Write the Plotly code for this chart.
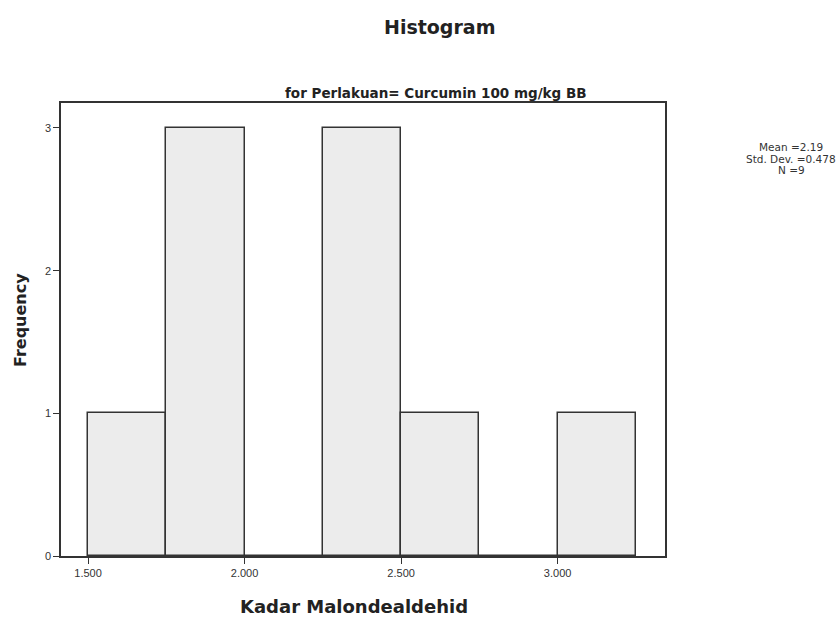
import plotly.graph_objects as go

# Histogram bins (lower edges) and their frequencies
bin_starts = [1.50, 1.75, 2.00, 2.25, 2.50, 2.75, 3.00]
bin_width = 0.25
frequencies = [1, 3, 0, 3, 1, 0, 1]

x_tick_vals = [1.5, 2.0, 2.5, 3.0]
x_tick_text = ["1.500", "2.000", "2.500", "3.000"]
y_tick_vals = [0, 1, 2, 3]

stats_lines = ["Mean =2.19", "Std. Dev. =0.478", "N =9"]

centers = [s + bin_width / 2 for s in bin_starts]

fig = go.Figure()
fig.add_trace(go.Bar(
    x=centers,
    y=frequencies,
    width=bin_width,
    marker=dict(color="#ececec", line=dict(color="#333333", width=1.5)),
    showlegend=False,
))

W, H = 839, 620
L, R, T, B = 61, 174, 103, 64

fig.update_layout(
    width=W, height=H,
    margin=dict(l=L, r=R, t=T, b=B),
    paper_bgcolor="white",
    plot_bgcolor="white",
    font=dict(family="Liberation Sans, Arial, sans-serif", color="#222"),
    bargap=0,
    xaxis=dict(
        range=[1.4135, 3.343],
        tickvals=x_tick_vals, ticktext=x_tick_text,
        ticks="outside", ticklen=6, tickcolor="#333", tickwidth=1,
        tickfont=dict(size=11, color="#333"),
        showgrid=False, zeroline=False,
        showline=True, linecolor="#333", linewidth=1.5, mirror=True,
    ),
    yaxis=dict(
        range=[0, 3.175],
        tickvals=y_tick_vals,
        ticks="outside", ticklen=6, tickcolor="#333", tickwidth=1,
        tickfont=dict(size=11, color="#333"),
        showgrid=False, zeroline=False,
        showline=True, linecolor="#333", linewidth=1.5, mirror=True,
    ),
)

HEAVY = "DejaVu Sans, Liberation Sans, sans-serif"
annotations = [
    dict(text="<b>Histogram</b>", x=439, y=H - 27, font=dict(family=HEAVY, size=19, color="#222")),
    dict(text="<b>for Perlakuan= Curcumin 100 mg/kg BB</b>", x=436, y=H - 93,
         font=dict(family=HEAVY, size=13.5, color="#222")),
    dict(text="<b>Kadar Malondealdehid</b>", x=354, y=H - 606,
         font=dict(family=HEAVY, size=18, color="#222")),
    dict(text="<b>Frequency</b>", x=20, y=H - 320, textangle=-90,
         font=dict(family=HEAVY, size=16, color="#222")),
]
# Summary statistics, one line each
for line, ypx in zip(stats_lines, [147, 159, 170]):
    annotations.append(dict(text=line, x=791, y=H - ypx,
                            font=dict(family="DejaVu Sans, sans-serif", size=10.5, color="#333")))

for a in annotations:
    fig.add_annotation(
        text=a["text"], xref="paper", yref="paper",
        x=(a["x"] - L) / (W - L - R), y=(a["y"] - B) / (H - T - B),
        xanchor="center", yanchor="middle", showarrow=False,
        font=a["font"], textangle=a.get("textangle", 0), align="center",
    )

fig.write_html("out.html")
